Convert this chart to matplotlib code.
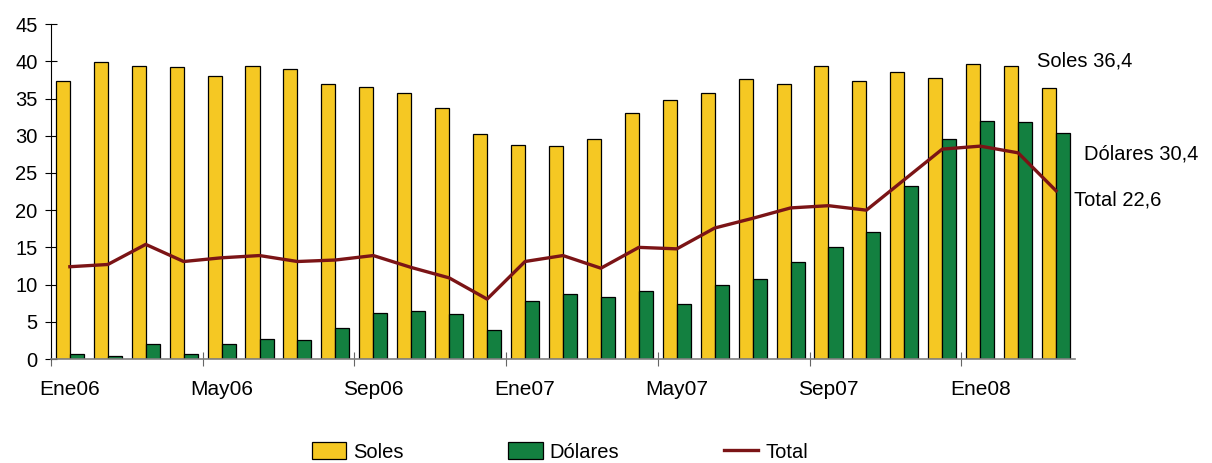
import numpy as np
import matplotlib
matplotlib.use("Agg")
import matplotlib.pyplot as plt

meses = ["Ene06", "Feb06", "Mar06", "Abr06", "May06", "Jun06", "Jul06", "Ago06",
         "Sep06", "Oct06", "Nov06", "Dic06", "Ene07", "Feb07", "Mar07", "Abr07",
         "May07", "Jun07", "Jul07", "Ago07", "Sep07", "Oct07", "Nov07", "Dic07",
         "Ene08", "Feb08", "Mar08"]
soles = [37.4, 39.9, 39.4, 39.2, 38.0, 39.4, 39.0, 36.9, 36.6, 35.7, 33.7, 30.2,
         28.8, 28.6, 29.5, 33.0, 34.8, 35.7, 37.6, 36.9, 39.4, 37.4, 38.6, 37.8,
         39.7, 39.4, 36.4]
dolares = [0.7, 0.45, 2.05, 0.7, 2.05, 2.7, 2.5, 4.1, 6.2, 6.4, 6.0, 3.9,
           7.8, 8.8, 8.3, 9.2, 7.4, 9.9, 10.8, 13.1, 15.0, 17.0, 23.3, 29.5,
           32.0, 31.8, 30.4]
total = [12.4, 12.7, 15.4, 13.1, 13.6, 13.9, 13.1, 13.3, 13.9, 12.3, 10.9, 8.05,
         13.1, 13.9, 12.2, 15.0, 14.8, 17.6, 18.9, 20.3, 20.6, 20.0, 24.1, 28.2,
         28.6, 27.7, 22.6]
etiquetas = ["Soles 36,4", "Dólares 30,4", "Total 22,6"]

plt.rcParams["font.family"] = ["Liberation Sans", "DejaVu Sans"]

fig = plt.figure(figsize=(12.12, 4.63), dpi=100)
ax = fig.add_axes([0.042, 0.2246, 0.845, 0.7234])

x = np.arange(len(meses))
w = 0.37
b1 = ax.bar(x - w / 2, soles, w, color="#F5C823", edgecolor="black", linewidth=0.9,
            label="Soles", zorder=2)
b2 = ax.bar(x + w / 2, dolares, w, color="#138040", edgecolor="black", linewidth=0.9,
            label="Dólares", zorder=2)
l1, = ax.plot(x, total, color="#7B1416", linewidth=2.4, label="Total", zorder=3)

ax.set_xlim(-0.5, len(meses) - 0.5)
ax.set_ylim(0, 45)
ax.set_yticks(range(0, 46, 5))
ax.tick_params(axis="y", direction="inout", length=9, width=0.8, labelsize=14.5, pad=5)

# ticks at category boundaries, labels at category centres
ax.set_xticks(x[::4] - 0.5)
ax.set_xticklabels([])
ax.set_xticks(x[::4], minor=True)
ax.set_xticklabels(meses[::4], minor=True)
ax.tick_params(axis="x", which="major", direction="inout", length=10, width=0.8,
               color="#666666")
ax.tick_params(axis="x", which="minor", length=0, labelsize=15, pad=15)

for s in ["top", "right"]:
    ax.spines[s].set_visible(False)
ax.spines["bottom"].set_color("#808080")
ax.spines["bottom"].set_linewidth(1.2)
ax.spines["left"].set_linewidth(0.8)

ax.text(25.5, 40.1, etiquetas[0], fontsize=14.5, va="center", ha="left", clip_on=False)
ax.text(26.73, 27.6, etiquetas[1], fontsize=14.5, va="center", ha="left", clip_on=False)
ax.text(26.47, 21.3, etiquetas[2], fontsize=14.5, va="center", ha="left", clip_on=False)

fig.legend([b1, b2, l1], ["Soles", "Dólares", "Total"], loc="center",
           bbox_to_anchor=(0.462, 0.024), ncol=3, frameon=False,
           handlelength=1.7, handleheight=0.9, handletextpad=0.35, columnspacing=5.2,
           fontsize=14.5)

fig.savefig("out.png", dpi=100)
